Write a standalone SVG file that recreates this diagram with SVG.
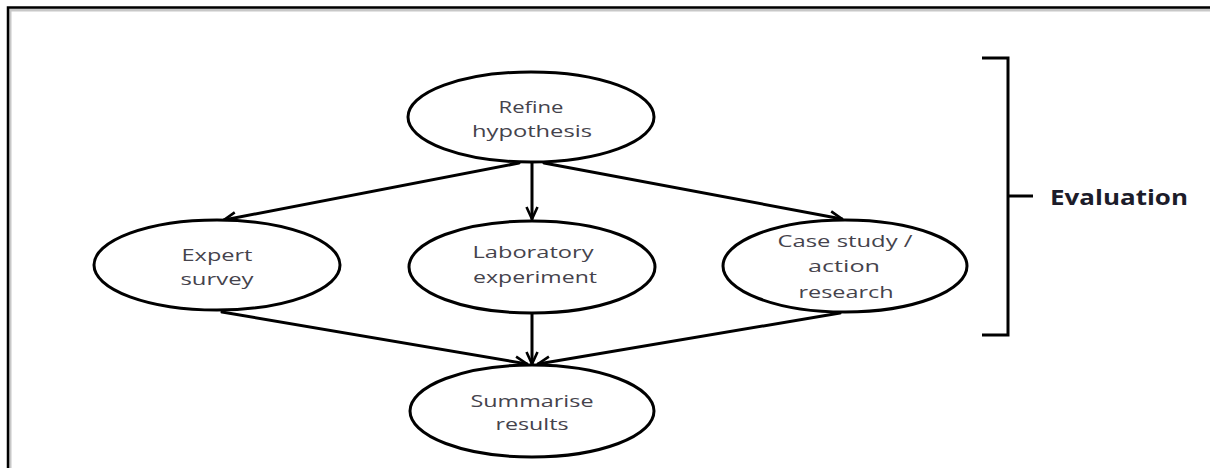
<svg xmlns="http://www.w3.org/2000/svg" width="1210" height="468" viewBox="0 0 1210 468">
  <style>
    .node ellipse { fill: #ffffff; stroke: #000000; stroke-width: 3; }
    .label { font-family: "Open Sans", "Liberation Sans", sans-serif; font-size: 17px; fill: #45434c; text-anchor: middle; }
    .edge { stroke: #000000; stroke-width: 3; fill: none; stroke-linecap: round; marker-end: url(#arrow); }
    .bracket { stroke: #000000; stroke-width: 3; fill: none; }
    .title { font-family: "Open Sans", "Liberation Sans", sans-serif; font-size: 21px; font-weight: bold; fill: #1c1c2a; }
  </style>
  <defs>
    <marker id="arrow" viewBox="0 0 14 14" refX="13" refY="7" markerWidth="14" markerHeight="14" markerUnits="userSpaceOnUse" orient="auto">
      <path d="M1,1.5 L13,7 L1,12.5" fill="none" stroke="#000000" stroke-width="2.6" stroke-linejoin="miter"/>
    </marker>
  </defs>

  <rect width="1210" height="468" fill="#ffffff"/>

  <!-- outer frame: top and left edges with soft shadow -->
  <g id="frame">
    <path d="M10,470 L10,10 L1212,10" fill="none" stroke="#c8c8c8" stroke-width="3"/>
    <path d="M8,470 L8,7.5 L1212,7.5" fill="none" stroke="#000000" stroke-width="2.5"/>
  </g>

  <!-- connectors -->
  <g id="connectors">
    <line class="edge" x1="519" y1="163" x2="224" y2="220"/>
    <line class="edge" x1="532" y1="163" x2="532" y2="219"/>
    <line class="edge" x1="544" y1="163" x2="842" y2="219"/>
    <line class="edge" x1="222" y1="312" x2="527" y2="364"/>
    <line class="edge" x1="532" y1="313" x2="532" y2="364"/>
    <line class="edge" x1="840" y1="313" x2="538" y2="364"/>
  </g>

  <g id="refine" class="node">
    <ellipse cx="531" cy="117" rx="123" ry="45"/>
    <text class="label" x="531" y="113" textLength="65" lengthAdjust="spacingAndGlyphs">Refine</text>
    <text class="label" x="532" y="137" textLength="120" lengthAdjust="spacingAndGlyphs">hypothesis</text>
  </g>

  <g id="expert" class="node">
    <ellipse cx="217" cy="265" rx="123" ry="45"/>
    <text class="label" x="217" y="261" textLength="71" lengthAdjust="spacingAndGlyphs">Expert</text>
    <text class="label" x="217" y="285" textLength="73" lengthAdjust="spacingAndGlyphs">survey</text>
  </g>

  <g id="laboratory" class="node">
    <ellipse cx="532" cy="267" rx="123" ry="46"/>
    <text class="label" x="533" y="258" textLength="121" lengthAdjust="spacingAndGlyphs">Laboratory</text>
    <text class="label" x="535" y="283" textLength="124" lengthAdjust="spacingAndGlyphs">experiment</text>
  </g>

  <g id="casestudy" class="node">
    <ellipse cx="845" cy="266" rx="122" ry="46"/>
    <text class="label" x="845" y="247" textLength="135" lengthAdjust="spacingAndGlyphs">Case study /</text>
    <text class="label" x="844" y="272" textLength="72" lengthAdjust="spacingAndGlyphs">action</text>
    <text class="label" x="846" y="298" textLength="95" lengthAdjust="spacingAndGlyphs">research</text>
  </g>

  <g id="summarise" class="node">
    <ellipse cx="532" cy="411" rx="122" ry="46"/>
    <text class="label" x="532" y="407" textLength="123" lengthAdjust="spacingAndGlyphs">Summarise</text>
    <text class="label" x="532" y="430" textLength="73" lengthAdjust="spacingAndGlyphs">results</text>
  </g>

  <!-- bracket grouping the evaluation steps -->
  <g id="evaluation">
    <path class="bracket" d="M982,58 L1008,58 L1008,335 L982,335"/>
    <line class="bracket" x1="1008" y1="196" x2="1033" y2="196"/>
    <text class="title" x="1050" y="205" textLength="138" lengthAdjust="spacingAndGlyphs">Evaluation</text>
  </g>
</svg>
